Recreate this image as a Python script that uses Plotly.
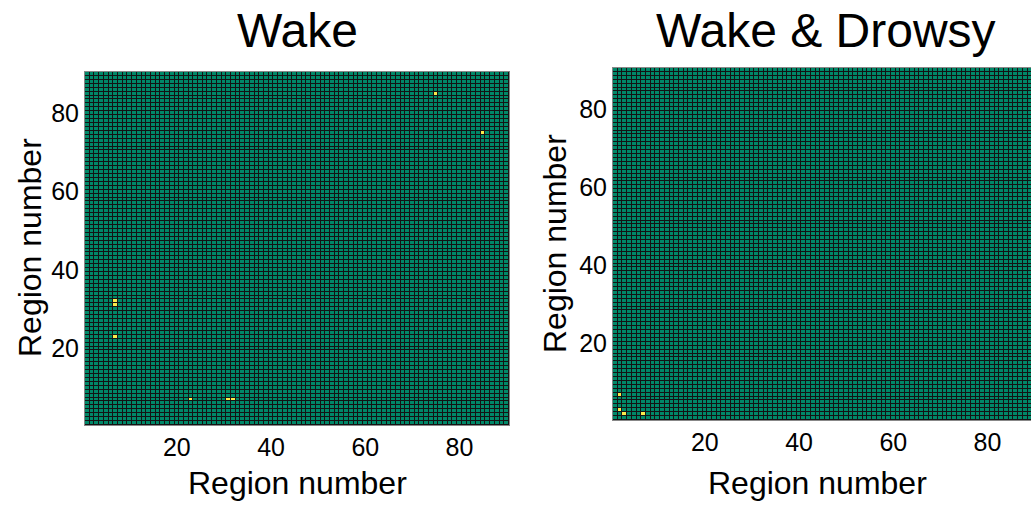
import numpy as np
import plotly.graph_objects as go

N_REGIONS = 90
# Region pairs that are "on" (value 1) in each connectivity matrix (row, col), symmetric
wake_rows = [23, 31, 32, 7, 7, 7, 85, 75]
wake_cols = [7, 7, 7, 23, 31, 32, 75, 85]
drowsy_rows = [7, 2, 3, 2]
drowsy_cols = [2, 3, 2, 7]

region_ticks = [20, 40, 60, 80]

TEAL = "#008868"
YELLOW = "#fcea4c"
FONT = "Liberation Sans, Arial, sans-serif"


def build_matrix(rows, cols):
    z = np.zeros((N_REGIONS, N_REGIONS))
    for r, c in zip(rows, cols):
        z[r - 1, c - 1] = 1
    return z


regions = list(range(1, N_REGIONS + 1))
fig = go.Figure()
for i, (rows, cols) in enumerate([(wake_rows, wake_cols), (drowsy_rows, drowsy_cols)]):
    fig.add_trace(go.Heatmap(
        z=build_matrix(rows, cols), x=regions, y=regions,
        colorscale=[[0, TEAL], [1, YELLOW]], zmin=0, zmax=1,
        showscale=False, xgap=1, ygap=1,
        xaxis="x" if i == 0 else "x2", yaxis="y" if i == 0 else "y2",
    ))

W, H = 1031, 505
L1, R1, T1, B1 = 85, 509, 72, 425
L2, R2, T2, B2 = 613, 1031, 68, 420

axis_common = dict(
    tickvals=region_ticks, ticks="", showgrid=False, zeroline=False,
    showline=True, linecolor="#888888", linewidth=1, mirror=True,
    tickfont=dict(size=25, color="black", family=FONT),
)
cell_w = (R1 - L1) / 90.0

fig.update_layout(
    width=W, height=H,
    margin=dict(l=0, r=0, t=0, b=0),
    paper_bgcolor="white", plot_bgcolor="#141414",
    font=dict(family=FONT, color="black"),
    xaxis=dict(domain=[L1 / W, R1 / W], range=[0.5, 90.5], anchor="y", **axis_common),
    yaxis=dict(domain=[(H - B1) / H, (H - T1) / H], range=[0.5, 90.5], anchor="x", **axis_common),
    xaxis2=dict(domain=[L2 / W, 1.0], range=[0.5, 0.5 + (R2 - L2) / cell_w], anchor="y2", **axis_common),
    yaxis2=dict(domain=[(H - B2) / H, (H - T2) / H], range=[0.5, 90.5], anchor="x2", **axis_common),
)

annotations = [
    dict(text="Wake", x=(L1 + R1) / 2 / W, y=1 - 30 / H, font=dict(size=48)),
    dict(text="Wake & Drowsy", x=826 / W, y=1 - 30 / H, font=dict(size=48)),
    dict(text="Region number", x=(L1 + R1) / 2 / W, y=1 - 483 / H, font=dict(size=32)),
    dict(text="Region number", x=817 / W, y=1 - 483 / H, font=dict(size=32)),
    dict(text="Region number", x=30 / W, y=1 - 248 / H, font=dict(size=32), textangle=-90),
    dict(text="Region number", x=555 / W, y=1 - 244 / H, font=dict(size=32), textangle=-90),
]
for a in annotations:
    a.update(xref="paper", yref="paper", showarrow=False, xanchor="center", yanchor="middle")
    a["font"].update(family=FONT, color="black")
fig.update_layout(annotations=annotations)

fig.write_html("out.html")
